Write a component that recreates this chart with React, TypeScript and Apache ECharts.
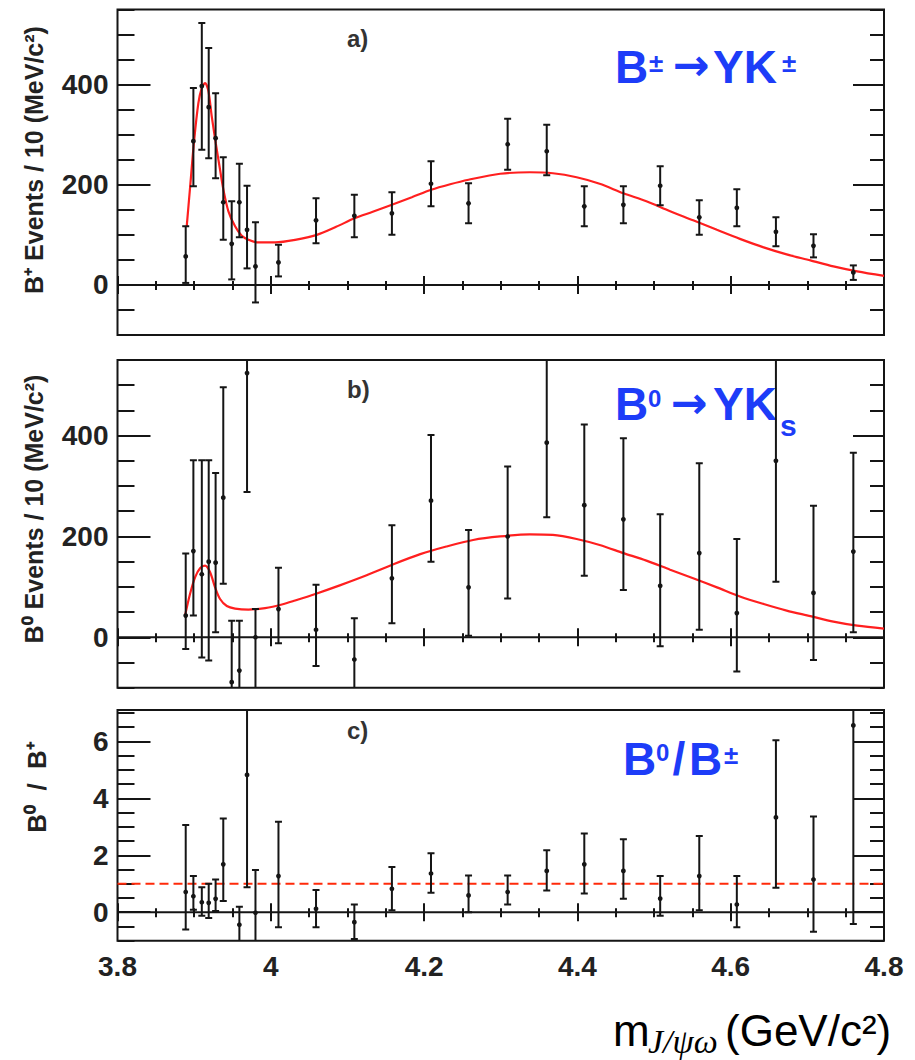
import React, { useEffect, useRef } from "react";
import * as echarts from "echarts";

// J/psi omega invariant-mass bins (GeV/c^2)
const binCenters = [
  3.889, 3.899, 3.91, 3.919, 3.928, 3.938, 3.949, 3.959, 3.969, 3.98, 4.01, 4.059, 4.109,
  4.158, 4.209, 4.258, 4.309, 4.36, 4.409, 4.46, 4.508, 4.559, 4.608, 4.659, 4.708, 4.76,
];

// B+ yields with lower / upper error bounds
const chargedYield = [57, 287, 397, 355, 293, 165, 82, 165, 110, 37, 45, 129, 138, 143, 202, 163, 281, 267, 157, 160, 198, 135, 154, 106, 78, 25];
const chargedLow = [4, 197, 270, 253, 213, 90, 11, 95, 33, -35, 17, 83, 95, 100, 157, 123, 230, 219, 117, 123, 159, 100, 117, 77, 55, 10];
const chargedHigh = [117, 393, 523, 473, 383, 255, 167, 242, 198, 125, 80, 173, 180, 185, 247, 203, 332, 320, 197, 197, 237, 169, 191, 135, 101, 39];

// B0 yields with lower / upper error bounds
const neutralYield = [43, 171, 125, 150, 148, 277, -89, -66, 524, 0, 56, 15, -44, 117, 271, 99, 200, 386, 262, 234, 102, 167, 48, 350, 88, 170];
const neutralLow = [-23, 43, -40, -46, 10, 106, -210, -165, 288, -110, -12, -57, -126, 28, 150, 3, 77, 238, 122, 94, -18, 15, -68, 110, -45, 10];
const neutralHigh = [166, 351, 351, 351, 326, 496, 33, 33, 760, 56, 138, 104, 38, 222, 401, 213, 339, 600, 422, 395, 244, 345, 195, 600, 261, 366];

// B0 / B+ ratio (null = off scale)
const ratio = [0.71, 0.56, 0.35, 0.33, 0.47, 1.68, null, -0.44, 4.82, -0.02, 1.27, 0.12, -0.35, 0.82, 1.36, 0.59, 0.71, 1.45, 1.68, 1.45, 0.48, 1.27, 0.27, 3.33, 1.15, 6.56];
const ratioLow = [-0.61, 0.09, -0.12, -0.2, 0.04, 0.39, null, -1.3, 0.88, -1.5, -0.53, -0.53, -0.94, 0.07, 0.68, 0.0, 0.27, 0.76, 0.66, 0.47, -0.12, 0.07, -0.53, 0.86, -0.69, -0.41];
const ratioHigh = [3.06, 1.27, 0.88, 1.0, 1.15, 3.29, null, 0.19, 9, 1.48, 3.18, 0.78, 0.27, 1.59, 2.07, 1.29, 1.29, 2.18, 2.76, 2.56, 1.27, 2.68, 1.27, 6.04, 3.36, 9];

// Fit curve for B+ sample
const fitMassCharged = [
  3.8903, 3.8946, 3.8999, 3.9055, 3.9099, 3.9142, 3.9186, 3.9229, 3.9282, 3.9338, 3.9382, 3.9447, 3.9534, 3.9621,
  3.9708, 3.9817, 4.0056, 4.0317, 4.06, 4.0852, 4.1092, 4.133, 4.158, 4.184, 4.2093, 4.234, 4.258, 4.2993, 4.338,
  4.368, 4.399, 4.429, 4.46, 4.49, 4.521, 4.551, 4.582, 4.612, 4.643, 4.673, 4.704, 4.734, 4.765, 4.8,
];
const fitCharged = [
  117, 193, 287, 363, 393, 403, 387, 337, 283, 230, 190, 147, 117, 98, 90, 85, 85, 90, 100, 116, 133, 146, 160, 175,
  190, 201, 210, 222, 225, 223, 215, 202, 183, 167, 147, 129, 110, 92, 75, 61, 49, 37, 27, 18,
];

// Fit curve for B0 sample
const fitMassNeutral = [
  3.8881, 3.8946, 3.9012, 3.9077, 3.9142, 3.9208, 3.9273, 3.9338, 3.9426, 3.9534, 3.9708, 3.9926, 4.0144, 4.0317,
  4.06, 4.09, 4.125, 4.16, 4.195, 4.229, 4.264, 4.299, 4.338, 4.368, 4.399, 4.429, 4.46, 4.49, 4.521, 4.551, 4.582,
  4.612, 4.643, 4.673, 4.704, 4.734, 4.765, 4.8,
];
const fitNeutral = [
  43, 86, 119, 137, 142, 129, 99, 76, 62, 57, 55, 58, 65, 73, 87, 103, 123, 145, 165, 180, 193, 200, 204, 203, 195,
  183, 167, 152, 134, 117, 99, 81, 66, 53, 42, 31, 23, 17,
];

const massTicks = [3.8, 4.0, 4.2, 4.4, 4.6, 4.8];
const yieldTicks = [0, 200, 400];
const ratioTicks = [0, 2, 4, 6];
const ratioReference = 1;

const INK = "#151515";
const BLUE = "#1d3cf8";
const RED = "#ff1f1f";
const SANS = '"Liberation Sans", Arial, Helvetica, sans-serif';
const ARROW_FONT = '"DejaVu Sans", sans-serif';

const zip = (x: number[], y: number[]) => x.map((v, i) => [v, y[i]]);

const errorRows = (vals: (number | null)[], lo: (number | null)[], hi: (number | null)[]) =>
  binCenters
    .map((m, i) => [m, vals[i], lo[i], hi[i]])
    .filter((r) => r[1] !== null) as number[][];

function renderErrorBar(params: any, api: any) {
  const x = api.value(0);
  const p = api.coord([x, api.value(1)]);
  const top = api.coord([x, api.value(3)]);
  const bot = api.coord([x, api.value(2)]);
  const c = 3.5;
  const st = { stroke: INK, lineWidth: 2 };
  return {
    type: "group",
    children: [
      { type: "line", shape: { x1: p[0], y1: top[1], x2: p[0], y2: bot[1] }, style: st },
      { type: "line", shape: { x1: p[0] - c, y1: top[1], x2: p[0] + c, y2: top[1] }, style: st },
      { type: "line", shape: { x1: p[0] - c, y1: bot[1], x2: p[0] + c, y2: bot[1] }, style: st },
      { type: "circle", shape: { cx: p[0], cy: p[1], r: 2.4 }, style: { fill: INK } },
    ],
  };
}

export default function App() {
  const ref = useRef<HTMLDivElement>(null);

  useEffect(() => {
    document.body.style.margin = "0";
    if (!ref.current) return;
    const chart = echarts.init(ref.current, undefined, { renderer: "svg" });

    const grids = [
      { left: 117.5, top: 9.5, width: 766.5, height: 325.5 },
      { left: 117.5, top: 360, width: 766.5, height: 327.7 },
      { left: 117.5, top: 710, width: 766.5, height: 230.7 },
    ].map((g) => ({ ...g, show: true, borderColor: INK, borderWidth: 2, backgroundColor: "transparent" }));

    const panelY = [
      { min: -100, max: 550, step: 50, majors: yieldTicks },
      { min: -100, max: 550, step: 50, majors: yieldTicks },
      { min: -1, max: 7.1, step: 0.5, majors: ratioTicks },
    ];

    const tickLine = { color: INK, width: 2 };
    const labelStyle = { color: "#222", fontFamily: SANS, fontWeight: "bold" as const, fontSize: 28 };

    const xAxis: any[] = [];
    const yAxis: any[] = [];
    grids.forEach((_, i) => {
      for (const pos of ["bottom", "top"]) {
        xAxis.push({
          gridIndex: i,
          type: "value",
          position: pos,
          min: massTicks[0],
          max: massTicks[massTicks.length - 1],
          interval: 0.2,
          axisLine: { show: false },
          splitLine: { show: false },
          axisTick: { show: true, inside: true, length: 9, lineStyle: tickLine },
          minorTick: { show: true, splitNumber: 4, length: pos === "top" ? 5 : 4, lineStyle: tickLine },
          axisLabel:
            i === 2 && pos === "bottom"
              ? { ...labelStyle, margin: 12, formatter: (v: number) => String(Math.round(v * 10) / 10) }
              : { show: false },
        });
      }
      const py = panelY[i];
      const base = {
        gridIndex: i,
        type: "value",
        min: py.min,
        max: py.max,
        axisLine: { show: false },
        splitLine: { show: false },
      };
      yAxis.push({
        ...base,
        position: "left",
        axisTick: { show: true, inside: true, length: 33, lineStyle: tickLine, customValues: py.majors },
        axisLabel: { ...labelStyle, margin: 9, customValues: py.majors },
      });
      yAxis.push({
        ...base,
        position: "left",
        interval: py.step,
        axisTick: { show: true, inside: true, length: 17, lineStyle: tickLine },
        axisLabel: { show: false },
      });
      yAxis.push({
        ...base,
        position: "right",
        axisTick: { show: true, inside: true, length: 31, lineStyle: tickLine, customValues: py.majors },
        axisLabel: { show: false },
      });
      yAxis.push({
        ...base,
        position: "right",
        interval: py.step,
        axisTick: { show: true, inside: true, length: 14, lineStyle: tickLine },
        axisLabel: { show: false },
      });
    });

    const axes = (i: number) => ({ xAxisIndex: i * 2, yAxisIndex: i * 4 + 1 });
    const hLine = (i: number, y: number, color: string, type: any) => ({
      type: "line",
      ...axes(i),
      data: [
        [massTicks[0], y],
        [massTicks[massTicks.length - 1], y],
      ],
      symbol: "none",
      silent: true,
      lineStyle: { color, width: 2, type },
      z: 1,
    });
    const fit = (i: number, xs: number[], ys: number[]) => ({
      type: "line",
      ...axes(i),
      data: zip(xs, ys),
      smooth: 0.3,
      symbol: "none",
      silent: true,
      lineStyle: { color: RED, width: 2.2 },
      z: 2,
    });
    const bars = (i: number, rows: number[][]) => ({
      type: "custom",
      ...axes(i),
      data: rows,
      encode: { x: 0, y: 1 },
      clip: true,
      renderItem: renderErrorBar,
      z: 3,
    });

    const series: any[] = [
      hLine(0, 0, INK, "solid"),
      fit(0, fitMassCharged, fitCharged),
      bars(0, errorRows(chargedYield, chargedLow, chargedHigh)),
      hLine(1, 0, INK, "solid"),
      fit(1, fitMassNeutral, fitNeutral),
      bars(1, errorRows(neutralYield, neutralLow, neutralHigh)),
      hLine(2, 0, INK, "solid"),
      hLine(2, ratioReference, "#ff2a0a", [9, 5]),
      bars(2, errorRows(ratio, ratioLow, ratioHigh)),
    ];

    const txt = (
      text: string,
      x: number,
      y: number,
      size: number,
      opts: { fill?: string; weight?: string; family?: string; style?: string; align?: string; rotation?: number } = {}
    ) => ({
      type: "text",
      x,
      y,
      rotation: opts.rotation || 0,
      silent: true,
      style: {
        text,
        fill: opts.fill || BLUE,
        fontSize: size,
        fontWeight: opts.weight || "bold",
        fontFamily: opts.family || SANS,
        fontStyle: opts.style || "normal",
        align: opts.align || "left",
        verticalAlign: "middle",
      },
    });

    const graphic: any[] = [
      // panel tags
      txt("a)", 347, 38.5, 24, { fill: "#333" }),
      txt("b)", 347, 389, 24, { fill: "#333" }),
      txt("c)", 347, 730, 24, { fill: "#333" }),
      // vertical axis titles
      txt("B⁺ Events / 10 (MeV/c²)", 34, 160, 25, { fill: "#222", align: "center", rotation: Math.PI / 2 }),
      txt("B⁰ Events / 10 (MeV/c²)", 34, 509, 25, { fill: "#222", align: "center", rotation: Math.PI / 2 }),
      txt("B⁰  /  B⁺", 37, 787, 26, { fill: "#222", align: "center", rotation: Math.PI / 2 }),
      // B± → Y K±
      txt("B", 615, 66.5, 46),
      txt("±", 649, 63, 26),
      txt("→", 691, 64, 44, { align: "center", family: ARROW_FONT }),
      txt("YK", 713, 66.5, 46),
      txt("±", 782, 63, 26),
      // B0 → Y Ks
      txt("B", 615, 403.5, 46),
      txt("0", 648, 398, 24),
      txt("→", 689, 402, 44, { align: "center", family: ARROW_FONT }),
      txt("YK", 713, 403.5, 46),
      txt("s", 780, 425, 30),
      // B0 / B±
      txt("B", 623, 758.5, 46),
      txt("0", 656, 752, 24),
      txt("/", 679, 758.5, 46, { align: "center" }),
      txt("B", 689, 758.5, 46),
      txt("±", 724, 755, 26),
      // horizontal axis title
      txt("m", 613, 1030, 44, { fill: "#000", weight: "normal" }),
      txt("J/ψω", 648, 1041, 34, { fill: "#000", weight: "normal", family: '"Liberation Serif", "Times New Roman", serif', style: "italic" }),
      txt("(GeV/c²)", 725, 1030, 44, { fill: "#000", weight: "normal" }),
    ];

    chart.setOption({
      animation: false,
      backgroundColor: "#ffffff",
      grid: grids,
      xAxis,
      yAxis,
      series,
      graphic,
    });

    return () => chart.dispose();
  }, []);

  return <div ref={ref} style={{ width: 915, height: 1060 }} />;
}
